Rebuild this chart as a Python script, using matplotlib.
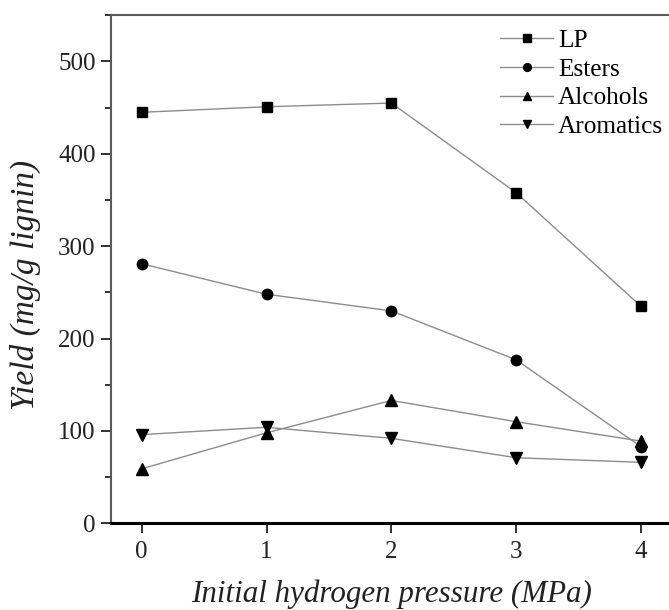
import numpy as np
import matplotlib
matplotlib.use("Agg")
import matplotlib.pyplot as plt
from matplotlib.ticker import MultipleLocator

# data
pressure = [0, 1, 2, 3, 4]
lp = [445, 451, 455, 358, 235]
esters = [281, 248, 230, 177, 83]
alcohols = [59, 98, 133, 110, 89]
aromatics = [96, 104, 92, 71, 66]

plt.rcParams['font.family'] = ['Liberation Serif', 'DejaVu Serif']

W, H = 669, 610
fig = plt.figure(figsize=(W / 100, H / 100), dpi=100)
# axes box in pixels: left 111, top 15, bottom 523, right just past the image edge
L, R, T, B = 111, 671.6, 15.3, 523.3
ax = fig.add_axes([L / W, (H - B) / H, (R - L) / W, (B - T) / H])

line_c = '#8c8c8c'
ax.plot(pressure, lp, marker='s', color=line_c, lw=1, mfc='k', mec='k', ms=7, label='LP')
ax.plot(pressure, esters, marker='o', color=line_c, lw=1, mfc='k', mec='k', ms=7.5, label='Esters')
ax.plot(pressure, alcohols, marker='^', color=line_c, lw=1, mfc='k', mec='k', ms=8, label='Alcohols')
ax.plot(pressure, aromatics, marker='v', color=line_c, lw=1, mfc='k', mec='k', ms=8, label='Aromatics')

ax.set_xlim(-0.246, 4.246)
ax.set_ylim(0, 550)
ax.set_xticks(pressure)
ax.yaxis.set_major_locator(MultipleLocator(100))
ax.yaxis.set_minor_locator(MultipleLocator(50))

for s in ['top', 'left', 'right']:
    ax.spines[s].set_color('#5a5a5a')
    ax.spines[s].set_linewidth(1.5)
ax.spines['bottom'].set_linewidth(2.2)
ax.spines['bottom'].set_color('k')

ax.tick_params(axis='both', which='major', labelsize=18, length=7, width=1.3, direction='out', colors='#222222')
ax.tick_params(axis='y', which='minor', length=4, width=1.3, direction='out', colors='#222222')
ax.tick_params(axis='x', pad=6)
ax.tick_params(axis='y', pad=4)

ax.set_xlabel('Initial hydrogen pressure (MPa)', fontsize=22.3, style='italic', color='#222222', va='baseline')
ax.xaxis.set_label_coords(0.5, (B - 601.7) / (B - T))
ax.set_ylabel('Yield (mg/g lignin)', fontsize=24, style='italic', color='#222222', va='center')
ax.yaxis.set_label_coords((25 - L) / (R - L), (B - 285) / (B - T))

leg = ax.legend(loc='upper left', bbox_to_anchor=((479 - L) / (R - L), 1.0 + 7 / (B - T)), frameon=False,
                fontsize=18.2, handlelength=2.1, handletextpad=0.2, labelspacing=0.24,
                borderaxespad=0.43, markerscale=0.75)

fig.savefig('out.png', dpi=100)
